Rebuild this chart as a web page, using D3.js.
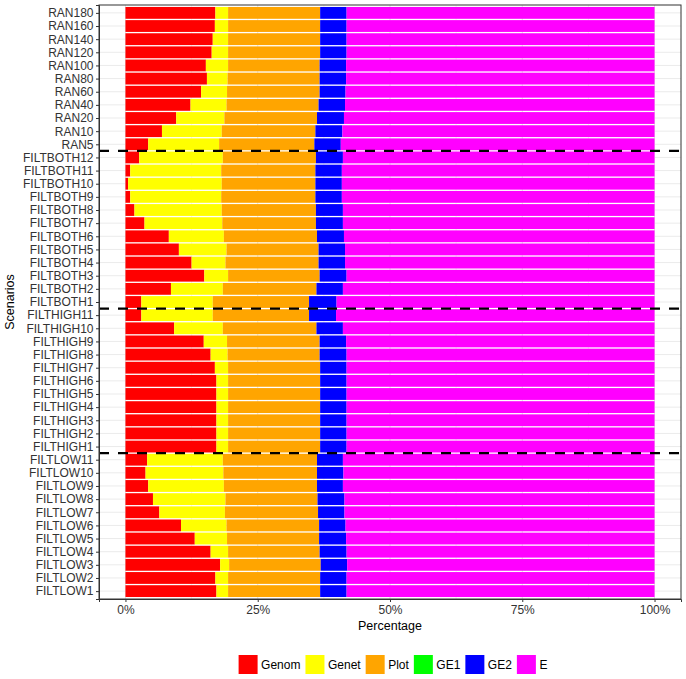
<!DOCTYPE html>
<html>
<head>
<meta charset="utf-8">
<script src="https://cdn.jsdelivr.net/npm/d3@7"></script>
<style>
  html, body { margin: 0; padding: 0; background: #fff; }
  svg { display: block; font-family: "Liberation Sans", Arial, sans-serif; }
</style>
</head>
<body>
<div id="chart"></div>
<script>
// stacked percentage bars, one row per scenario (top to bottom)

const scenarios = [
  "RAN180", "RAN160", "RAN140", "RAN120", "RAN100", "RAN80", "RAN60", "RAN40", "RAN20", "RAN10", "RAN5",
  "FILTBOTH12", "FILTBOTH11", "FILTBOTH10", "FILTBOTH9", "FILTBOTH8", "FILTBOTH7", "FILTBOTH6",
  "FILTBOTH5", "FILTBOTH4", "FILTBOTH3", "FILTBOTH2", "FILTBOTH1",
  "FILTHIGH11", "FILTHIGH10", "FILTHIGH9", "FILTHIGH8", "FILTHIGH7", "FILTHIGH6", "FILTHIGH5",
  "FILTHIGH4", "FILTHIGH3", "FILTHIGH2", "FILTHIGH1",
  "FILTLOW11", "FILTLOW10", "FILTLOW9", "FILTLOW8", "FILTLOW7", "FILTLOW6", "FILTLOW5",
  "FILTLOW4", "FILTLOW3", "FILTLOW2", "FILTLOW1"
];

const genom = [
  17.0, 16.9, 16.5, 16.3, 15.2, 15.4, 14.3, 12.3, 9.6, 6.9, 4.3,
  2.6, 0.9, 0.5, 0.9, 1.7, 3.6, 8.2, 10.1, 12.5, 14.9, 8.6, 3.0,
  3.0, 9.2, 14.8, 16.1, 16.9, 17.2, 17.2, 17.2, 17.2, 17.2, 17.2,
  4.1, 3.8, 4.3, 5.2, 6.4, 10.5, 13.1, 16.1, 17.9, 17.0, 17.2
];
const genet = [
  2.4, 2.5, 2.9, 3.1, 4.2, 3.9, 4.9, 6.8, 9.1, 11.3, 13.4,
  15.8, 17.2, 17.7, 17.2, 16.5, 14.7, 10.4, 9.0, 6.4, 4.5, 9.8, 13.5,
  13.5, 9.2, 4.4, 3.2, 2.5, 2.2, 2.2, 2.2, 2.2, 2.2, 2.2,
  14.3, 14.7, 14.3, 13.7, 12.4, 8.6, 6.1, 3.3, 1.7, 2.4, 2.2
];
const plot = [
  17.4, 17.4, 17.4, 17.4, 17.3, 17.4, 17.5, 17.4, 17.5, 17.7, 18.0,
  17.6, 17.8, 17.7, 17.8, 17.8, 17.7, 17.6, 17.4, 17.6, 17.3, 17.7, 18.2,
  18.2, 17.7, 17.5, 17.4, 17.4, 17.4, 17.4, 17.4, 17.4, 17.4, 17.4,
  17.8, 17.7, 17.6, 17.4, 17.6, 17.5, 17.4, 17.3, 17.3, 17.4, 17.4
];
const ge1 = scenarios.map(() => 0);
const ge2 = [
  5.0, 5.0, 5.0, 5.0, 5.0, 5.0, 4.9, 5.0, 5.1, 5.1, 5.0,
  5.1, 5.0, 5.0, 5.0, 5.1, 5.1, 5.1, 5.0, 5.0, 5.1, 5.0, 5.2,
  5.1, 5.0, 5.0, 5.1, 5.0, 5.0, 5.0, 5.0, 5.0, 5.0, 5.0,
  4.9, 5.0, 4.9, 5.1, 5.0, 5.0, 5.1, 5.1, 5.0, 5.0, 5.0
];
const e = [
  58.2, 58.2, 58.2, 58.2, 58.3, 58.3, 58.4, 58.5, 58.7, 59.0, 59.3,
  58.9, 59.1, 59.1, 59.1, 58.9, 58.9, 58.7, 58.5, 58.5, 58.2, 58.9, 60.1,
  60.2, 58.9, 58.3, 58.2, 58.2, 58.2, 58.2, 58.2, 58.2, 58.2, 58.2,
  58.9, 58.8, 58.9, 58.6, 58.6, 58.4, 58.3, 58.2, 58.1, 58.2, 58.2
];

const components = ["Genom", "Genet", "Plot", "GE1", "GE2", "E"];
const componentColors = ["#FF0000", "#FFFF00", "#FFA500", "#00FF00", "#0000FF", "#FF00FF"];
const groupBreaks = ["RAN5", "FILTBOTH1", "FILTHIGH1"];
const xTicks = [0, 25, 50, 75, 100];
const xMinorTicks = [12.5, 37.5, 62.5, 87.5];

const width = 686, height = 679;
const panel = { left: 99, right: 681, top: 5, bottom: 599 };

const rows = scenarios.map((s, i) => ({
  scenario: s,
  Genom: genom[i], Genet: genet[i], Plot: plot[i], GE1: ge1[i], GE2: ge2[i], E: e[i]
}));

const svg = d3.select("#chart").append("svg")
  .attr("width", width)
  .attr("height", height);

const x = d3.scaleLinear().domain([-5, 105]).range([panel.left, panel.right]);
const y = d3.scalePoint().domain(scenarios).range([panel.top, panel.bottom]).padding(0.6);
const step = y.step();
const barH = step * 0.9;
const color = d3.scaleOrdinal().domain(components).range(componentColors);

// grid
const grid = svg.append("g");
grid.selectAll(".hg").data(scenarios).join("line")
  .attr("x1", panel.left).attr("x2", panel.right)
  .attr("y1", d => y(d)).attr("y2", d => y(d))
  .attr("stroke", "#ebebeb").attr("stroke-width", 1);
grid.selectAll(".vmin").data(xMinorTicks).join("line")
  .attr("x1", d => x(d)).attr("x2", d => x(d))
  .attr("y1", panel.top).attr("y2", panel.bottom)
  .attr("stroke", "#ebebeb").attr("stroke-width", 0.6);
grid.selectAll(".vmaj").data(xTicks).join("line")
  .attr("x1", d => x(d)).attr("x2", d => x(d))
  .attr("y1", panel.top).attr("y2", panel.bottom)
  .attr("stroke", "#e4e4e4").attr("stroke-width", 1);

// bars
const stacked = d3.stack().keys(components)(rows);
svg.append("g").selectAll("g").data(stacked).join("g")
  .attr("fill", d => color(d.key))
  .selectAll("rect").data(d => d).join("rect")
  .attr("x", d => x(d[0]))
  .attr("width", d => Math.max(0, x(d[1]) - x(d[0])))
  .attr("y", d => y(d.data.scenario) - barH / 2)
  .attr("height", barH);

// group separators
svg.append("g").selectAll("line").data(groupBreaks).join("line")
  .attr("x1", panel.left).attr("x2", panel.right)
  .attr("y1", d => y(d) + step / 2).attr("y2", d => y(d) + step / 2)
  .attr("stroke", "#000").attr("stroke-width", 2.2)
  .attr("stroke-dasharray", "10,9");

// panel border
svg.append("rect")
  .attr("x", panel.left).attr("y", panel.top)
  .attr("width", panel.right - panel.left).attr("height", panel.bottom - panel.top)
  .attr("fill", "none").attr("stroke", "#333").attr("stroke-width", 1);

// axes
const xAxis = svg.append("g")
  .attr("transform", `translate(0,${panel.bottom})`)
  .call(d3.axisBottom(x).tickValues(xTicks).tickFormat(d => d + "%").tickSize(3).tickPadding(3));
const yAxis = svg.append("g")
  .attr("transform", `translate(${panel.left},0)`)
  .call(d3.axisLeft(y).tickSize(3).tickPadding(2.5));

[xAxis, yAxis].forEach(a => {
  a.select(".domain").attr("stroke", "#333");
  a.selectAll(".tick line").attr("stroke", "#333");
  a.selectAll(".tick text")
    .attr("fill", "#333")
    .style("font-family", "'Liberation Sans', Arial, sans-serif")
    .style("font-size", "12px");
});

// titles
svg.append("text")
  .attr("x", (panel.left + panel.right) / 2).attr("y", 630)
  .attr("text-anchor", "middle")
  .style("font-size", "12.5px")
  .text("Percentage");

svg.append("text")
  .attr("transform", `translate(14,${(panel.top + panel.bottom) / 2}) rotate(-90)`)
  .attr("text-anchor", "middle")
  .style("font-size", "12.5px")
  .text("Scenarios");

// legend
const legend = svg.append("g");
let lx = 0;
components.forEach(c => {
  const item = legend.append("g").attr("transform", `translate(${lx},0)`);
  item.append("rect")
    .attr("x", 0).attr("y", 655)
    .attr("width", 19).attr("height", 19)
    .attr("fill", color(c));
  const t = item.append("text")
    .attr("x", 22.5).attr("y", 669)
    .style("font-size", "12px")
    .text(c);
  lx += 22.5 + t.node().getComputedTextLength() + 5;
});
const legendW = lx - 5;
legend.attr("transform", `translate(${(panel.left + panel.right) / 2 - legendW / 2 + 3},0)`);
</script>
</body>
</html>
